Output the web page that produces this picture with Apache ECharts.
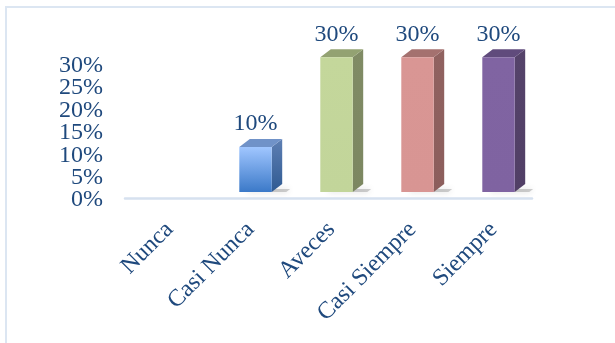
<!DOCTYPE html>
<html>
<head>
<meta charset="utf-8">
<script src="https://cdn.jsdelivr.net/npm/echarts@6/dist/echarts.min.js"></script>
<style>
html,body{margin:0;padding:0;background:#fff;}
#frame{position:absolute;left:5px;top:6px;width:610px;height:337px;border-top:2px solid #DCE6F2;border-left:2px solid #DCE6F2;box-sizing:border-box;}
#chart{position:absolute;left:0;top:0;width:615px;height:343px;}
</style>
</head>
<body>
<div id="frame"></div>
<div id="chart"></div>
<script>
var categories = ['Nunca', 'Casi Nunca', 'Aveces', 'Casi Siempre', 'Siempre'];
var values = [0, 10, 30, 30, 30];
var yTicksEven = [0, 10, 20, 30];
var yTicksOdd = [5, 15, 25];

var palette = [
  null,
  {fTop:'#A0C6FF', fBot:'#3B79C8', side:'#2F5A92', sideTop:'#5E7FB3', top:'#7092C8'},
  {fTop:'#C4D79B', fBot:'#C2D59A', side:'#7C8761', sideTop:'#808B65', top:'#93A272'},
  {fTop:'#D99694', fBot:'#D89593', side:'#8C5E5C', sideTop:'#906260', top:'#A4716F'},
  {fTop:'#8064A2', fBot:'#7F63A1', side:'#513F66', sideTop:'#55436A', top:'#604B7C'}
];

var font = 'Liberation Serif';
var fsize = 24;
var txtColor = '#1F497D';

var chart = echarts.init(document.getElementById('chart'), null, {renderer:'canvas'});

function renderItem(params, api) {
  var idx = api.value(0);
  var v = api.value(1);
  if (!v) return null;
  var c = palette[idx];
  var base = api.coord([idx, 0]);
  var topP = api.coord([idx, v]);
  var band = api.size([1, 0])[0];
  var w = band * 0.4;
  var x0 = base[0] - w / 2, x1 = base[0] + w / 2;
  var yb = base[1], yt = topP[1];
  var dx = 10.5, dy = 8;
  return {
    type: 'group',
    children: [
      {type:'polygon', shape:{points:[[x0+8, yb-3],[x1+dx+8, yb-3],[x1+dx+4, yb],[x0+8, yb]]},
        style:{fill:'rgba(100,100,100,0.3)', shadowBlur:6, shadowColor:'rgba(0,0,0,0.5)'}, z2:0},
      {type:'polygon', shape:{points:[[x1, yt],[x1+dx, yt-dy],[x1+dx, yb-dy],[x1, yb]]},
        style:{fill:new echarts.graphic.LinearGradient(0,0,0,1,[{offset:0,color:c.sideTop},{offset:1,color:c.side}])}, z2:1},
      {type:'polygon', shape:{points:[[x0, yt],[x0+dx, yt-dy],[x1+dx, yt-dy],[x1, yt]]},
        style:{fill:c.top}, z2:2},
      {type:'rect', shape:{x:x0, y:yt, width:w, height:yb-yt},
        style:{fill:new echarts.graphic.LinearGradient(0,0,0,1,[{offset:0,color:c.fTop},{offset:1,color:c.fBot}])}, z2:3},
      {type:'text', style:{text: v + '%', x: base[0], y: yt - 23, align:'center', verticalAlign:'middle',
        fontFamily: font, fontSize: fsize, fill: txtColor}, z2:4}
    ]
  };
}

function labelAxis(list) {
  return {type:'value', gridIndex:2, min:0, max:30, interval:5, position:'left', offset:0,
    axisLine:{show:false}, axisTick:{show:false}, splitLine:{show:false},
    axisLabel:{margin:26, color:txtColor, fontFamily:font, fontSize:fsize,
      showMinLabel:true, showMaxLabel:true,
      formatter:function(v){ return list.indexOf(v) >= 0 ? v + '%' : ''; }}};
}

var option = {
  animation: false,
  grid: [
    {left:134, right:76, top:57.3, bottom:151, containLabel:false},
    {left:125, right:83, top:57.3, bottom:145, containLabel:false},
    {left:129, right:81, top:65.7, bottom:143, containLabel:false}
  ],
  xAxis: [
    {type:'category', data:categories, gridIndex:0, show:false},
    {type:'category', data:categories, gridIndex:1,
      axisLine:{show:true, lineStyle:{color:'#D6E1EF', width:2.5}}, axisTick:{show:false}, axisLabel:{show:false}},
    {type:'category', data:categories, gridIndex:2,
      axisLine:{show:false}, axisTick:{show:false},
      axisLabel:{rotate:45, margin:26, interval:0, color:txtColor, fontFamily:font, fontSize:fsize}}
  ],
  yAxis: [
    {type:'value', gridIndex:0, min:0, max:30, interval:5, show:false},
    {type:'value', gridIndex:1, show:false, min:0, max:30},
    labelAxis(yTicksEven),
    labelAxis(yTicksOdd)
  ],
  series: [{
    type:'custom', xAxisIndex:0, yAxisIndex:0,
    renderItem: renderItem,
    data: values.map(function(v, i){ return [i, v]; }),
    clip:false
  }]
};
chart.setOption(option);
</script>
</body>
</html>
